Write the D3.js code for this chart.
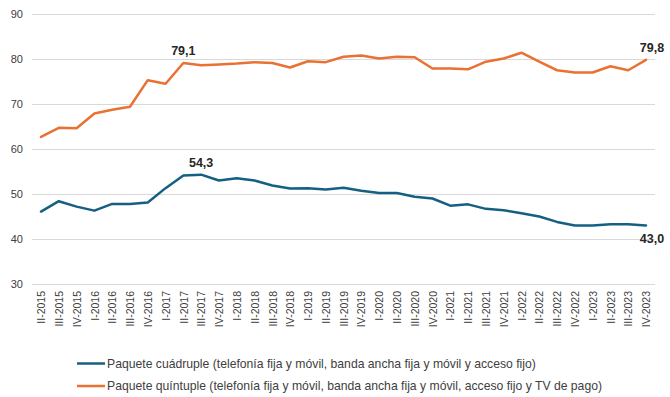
<!DOCTYPE html>
<html><head><meta charset="utf-8">
<script src="https://cdn.jsdelivr.net/npm/d3@7"></script>
<style>body{margin:0;background:#fff}svg{display:block}</style>
</head><body>
<svg id="c" width="670" height="397"></svg>
<script>
const categories = ["II-2015","III-2015","IV-2015",
"I-2016","II-2016","III-2016","IV-2016",
"I-2017","II-2017","III-2017","IV-2017",
"I-2018","II-2018","III-2018","IV-2018",
"I-2019","II-2019","III-2019","IV-2019",
"I-2020","II-2020","III-2020","IV-2020",
"I-2021","II-2021","III-2021","IV-2021",
"I-2022","II-2022","III-2022","IV-2022",
"I-2023","II-2023","III-2023","IV-2023"];
const cuadruple = [46.1,48.4,47.2,46.3,47.8,47.8,48.1,51.3,54.1,54.3,53.0,53.5,53.0,51.9,51.2,51.3,51.0,51.4,50.7,50.2,50.2,49.4,49.0,47.4,47.7,46.7,46.4,45.7,45.0,43.8,43.0,43.0,43.3,43.3,43.0];
const quintuple = [62.7,64.7,64.6,67.9,68.7,69.4,75.3,74.5,79.1,78.6,78.8,79.0,79.3,79.1,78.1,79.5,79.3,80.5,80.8,80.1,80.5,80.4,77.9,77.9,77.7,79.4,80.1,81.4,79.4,77.5,77.0,77.0,78.4,77.5,79.8];
const yTicks = [30,40,50,60,70,80,90];
const seriesNames = ["Paquete cuádruple (telefonía fija y móvil, banda ancha fija y móvil y acceso fijo)",
"Paquete quíntuple (telefonía fija y móvil, banda ancha fija y móvil, acceso fijo y TV de pago)"];
const colors = ["#156082","#E97132"];
// labelled points: [seriesIndex, categoryIndex, text, position]
const dataLabels = [[1,8,"79,1","above"],[0,9,"54,3","above"],[1,34,"79,8","above"],[0,34,"43,0","below"]];

const svg = d3.select("#c");
const font = "'Liberation Sans', Arial, sans-serif";
const x = d3.scalePoint().domain(categories).range([41, 646]);
const y = d3.scaleLinear().domain([30,90]).range([284, 14]);

// gridlines
svg.append("g").selectAll("line").data(yTicks).join("line")
  .attr("x1",32).attr("x2",655)
  .attr("y1",d=>Math.round(y(d))+0.5).attr("y2",d=>Math.round(y(d))+0.5)
  .attr("stroke","#d9d9d9").attr("stroke-width",1);

// y axis labels
const yAxis = d3.axisLeft(y).tickValues(yTicks).tickSize(0).tickPadding(0);
const gy = svg.append("g").attr("transform","translate(23,0)").call(yAxis);
gy.select(".domain").remove();
gy.selectAll("text").attr("font-family",font).attr("font-size",11).attr("fill","#404040");

// x axis labels
const xAxis = d3.axisBottom(x).tickSize(0).tickPadding(0);
const gx = svg.append("g").attr("transform","translate(0,291)").call(xAxis);
gx.select(".domain").remove();
gx.selectAll("text").attr("font-family",font).attr("font-size",10.5).attr("fill","#404040")
  .attr("transform","rotate(-90)").attr("text-anchor","end").attr("dy","0.35em").attr("x",0).attr("y",0);

// lines
const line = d3.line().x((d,i)=>x(categories[i])).y(d=>y(d)).curve(d3.curveLinear);
[cuadruple, quintuple].forEach((s,k)=>{
  svg.append("path").datum(s).attr("d",line).attr("fill","none")
    .attr("stroke",colors[k]).attr("stroke-width",2.5).attr("stroke-linejoin","round").attr("stroke-linecap","round");
});

// data labels
const series = [cuadruple, quintuple];
dataLabels.forEach(([si,ci,t,pos])=>{
  const px = x(categories[ci]), py = y(series[si][ci]);
  svg.append("text").attr("x", ci===34 ? px+6 : px).attr("y", pos==="above" ? py-8 : py+17)
    .attr("text-anchor","middle").attr("font-family",font).attr("font-weight","bold")
    .attr("font-size",12.5).attr("fill","#262626").text(t);
});

// legend
const leg = svg.append("g");
seriesNames.forEach((n,k)=>{
  const ly = 363.5 + k*22.5;
  leg.append("line").attr("x1",77).attr("x2",105).attr("y1",ly).attr("y2",ly)
    .attr("stroke",colors[k]).attr("stroke-width",2.5);
  leg.append("text").attr("x",107).attr("y",ly).attr("dy","0.35em")
    .attr("font-family",font).attr("font-size",12.2).attr("fill","#404040").text(n);
});
</script>
</body></html>
